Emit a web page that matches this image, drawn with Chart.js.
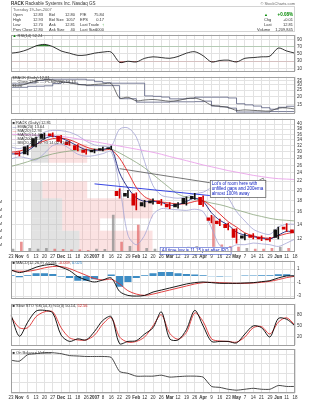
<!DOCTYPE html>
<html lang="en">
<head>
<meta charset="UTF-8">
<title>RACK</title>
<script src="https://cdn.jsdelivr.net/npm/chart.js"></script>
<style>
  body { margin: 0; background: #fff; font-family: "Liberation Sans", Arial, sans-serif; }
  #wrap { position: relative; width: 310px; height: 400px; overflow: hidden; }
  #wrap canvas { position: absolute; left: 0; }
  /* text layer drawn at 2x and scaled down, so tiny type is not clamped */
  #ovl { position: absolute; left: 0; top: 0; width: 620px; height: 800px; transform: scale(0.5); transform-origin: 0 0; pointer-events: none; }
  .t { position: absolute; font-size: 9px; line-height: 10px; color: #333; white-space: nowrap; }
  .h { font-size: 8px; }
  .r { text-align: right; }
  .box { position: absolute; border: 2px solid #d4d4d4; }
</style>
</head>
<body>
<div id="wrap">
  <canvas id="rsiChart"></canvas>
  <canvas id="chanChart"></canvas>
  <canvas id="priceChart"></canvas>
  <canvas id="macdChart"></canvas>
  <canvas id="stoChart"></canvas>
  <canvas id="obvChart"></canvas>

  <div id="ovl">
    <div class="t" style="left:22px;top:1px"><b>RACK</b> Rackable Systems Inc.  Nasdaq GS</div>
    <div class="t h r" style="right:30px;top:2px;color:#666">© StockCharts.com</div>
    <div class="box" style="left:22px;top:12px;width:564px;height:48px"></div>
    <div class="t h" style="left:26px;top:14px;color:#666">Tuesday 19-Jun-2007</div>

    <div class="t h" style="left:26px;top:24px">Open</div><div class="t h r" style="left:56px;width:30px;top:24px">12.83</div>
    <div class="t h" style="left:26px;top:34px">High</div><div class="t h r" style="left:56px;width:30px;top:34px">12.93</div>
    <div class="t h" style="left:26px;top:44px">Low</div><div class="t h r" style="left:56px;width:30px;top:44px">12.70</div>
    <div class="t h" style="left:26px;top:54px">Prev Close</div><div class="t h r" style="left:56px;width:30px;top:54px">12.80</div>
    <div class="t h" style="left:98px;top:24px">Bid</div><div class="t h r" style="left:120px;width:30px;top:24px">12.80</div>
    <div class="t h" style="left:98px;top:34px">Bid Size</div><div class="t h r" style="left:120px;width:30px;top:34px">1057</div>
    <div class="t h" style="left:98px;top:44px">Ask</div><div class="t h r" style="left:120px;width:30px;top:44px">12.81</div>
    <div class="t h" style="left:98px;top:54px">Ask Size</div><div class="t h r" style="left:120px;width:30px;top:54px">40</div>
    <div class="t h" style="left:160px;top:24px">P/E</div><div class="t h r" style="left:176px;width:32px;top:24px">75.84</div>
    <div class="t h" style="left:160px;top:34px">EPS</div><div class="t h r" style="left:176px;width:32px;top:34px">0.17</div>
    <div class="t h" style="left:160px;top:44px">Last Trade</div><div class="t h r" style="left:176px;width:32px;top:44px;color:#080">&#8593;</div>
    <div class="t h" style="left:160px;top:54px">Last Size</div><div class="t h r" style="left:176px;width:32px;top:54px">1000</div>

    <div class="t h" style="left:528px;top:24px;color:#080">&#9650;</div>
    <div class="t r" style="left:540px;width:46px;top:23px;color:#080;font-weight:bold">+0.08%</div>
    <div class="t h" style="left:528px;top:34px">Chg</div><div class="t h r" style="left:540px;width:46px;top:34px">+0.01</div>
    <div class="t h" style="left:528px;top:44px">Last</div><div class="t h r" style="left:540px;width:46px;top:44px">12.81</div>
    <div class="t h" style="left:514px;top:54px">Volume</div><div class="t h r" style="left:536px;width:50px;top:54px">1,209,845</div>

    <div class="t h" style="left:25px;top:67px"><span style="color:#080">&#9650;</span> RSI(14) 52.24</div>

    <div class="t h" style="left:25px;top:151px">$RACK (Daily) 12.81</div>
    <div class="t h" style="left:25px;top:159px"><span style="color:#556">&#8212;</span> Close 12.81 <span style="color:#556">&#8212;</span> PChan(20) 14.13</div>
    <div class="t h" style="left:25px;top:167px;color:#555">11.70</div>

    <div class="t h" style="left:25px;top:241px">&#9632; RACK (Daily) 12.81</div>
    <div class="t h" style="left:25px;top:249px"><span style="color:#1a237e">&#8212;</span> EMA(20) 13.04</div>
    <div class="t h" style="left:25px;top:257px"><span style="color:#e02020">&#8212;</span> MA(20) 12.93</div>
    <div class="t h" style="left:25px;top:265px"><span style="color:#7f9a70">&#8212;</span> MA(50) 14.47</div>
    <div class="t h" style="left:25px;top:273px"><span style="color:#e090e0">&#8212;</span> MA(200) 22.40</div>
    <div class="t h" style="left:25px;top:281px"><span style="color:#9090c8">&#8212;</span> BB(20,2.0) 12.93 14.02 11.84</div>

    <div class="t h" style="left:25px;top:521px">&#9632; MACD(12,26,9) -0.034, <span style="color:#d02020">-0.059</span>, <span style="color:#2a7fc0">0.025</span></div>
    <div class="t h" style="left:25px;top:607px">&#9632; Slow STO %K(14,3) %D(3) 50.14, <span style="color:#d02020">52.56</span></div>
    <div class="t h" style="left:25px;top:701px">&#9632; On Balance Volume</div>
  </div>
</div>

<script>
  // weekly sample points, Oct 23 2006 .. Jun 18 2007
  const weeks = ['23','Nov','6','13','20','27','Dec','11','18','26','2007','8','16','22','29','Feb','12','20','26','Mar','12','19','26','Apr','9','16','23','May','7','14','21','29','Jun','11','18'];
  const boldLabels = ['Nov','Dec','2007','Feb','Mar','Apr','May','Jun'];

  // price (weekly OHLC)
  const opens  = [29.0,29.6,29.3,31.8,34.5,36.2,35.3,33.2,32.0,30.5,29.9,30.5,31.0,19.8,18.8,19.3,17.0,17.5,17.9,17.3,16.8,17.4,18.3,18.6,15.0,14.5,14.0,13.3,12.1,12.5,12.2,12.0,12.2,13.6,13.2];
  const highs  = [30.3,30.0,32.0,35.0,36.5,36.6,35.6,33.6,32.3,30.8,30.8,31.5,31.8,20.3,20.0,19.5,18.0,18.3,18.2,17.6,17.6,18.7,19.4,18.9,15.4,14.8,14.2,13.4,12.7,12.7,12.4,12.2,13.6,14.1,13.4];
  const lows   = [28.6,28.7,29.0,31.5,34.2,35.0,33.0,32.0,30.2,29.2,29.6,30.2,30.6,18.4,18.5,16.3,16.8,17.3,17.1,16.5,16.6,17.1,18.2,16.9,14.2,13.8,13.2,11.5,11.9,12.0,11.8,11.7,12.0,13.0,12.7];
  const closes = [29.5,29.2,31.6,34.4,36.0,35.5,33.4,32.3,30.6,29.8,30.4,31.0,31.2,18.9,19.4,17.1,17.6,17.9,17.4,16.8,17.3,18.4,18.8,17.2,14.6,14.1,13.5,12.2,12.4,12.2,12.0,11.9,13.2,13.3,12.8];
  const volumeM = [2.0,7.0,2.5,2.0,2.5,2.0,1.8,1.5,1.5,1.2,2.0,1.8,26.0,7.0,4.0,19.0,2.5,2.0,2.5,2.0,2.0,3.5,4.0,3.0,25.0,5.0,4.0,3.5,2.5,2.0,2.0,2.5,3.5,2.5,2.0];

  // overlays
  const ema20  = [29.3,29.4,30.3,32.3,34.4,35.3,34.6,33.3,31.8,30.6,30.4,30.7,31.0,24.0,20.5,18.5,17.8,17.8,17.6,17.1,17.2,17.8,18.4,17.8,15.8,14.6,13.9,12.9,12.5,12.3,12.1,12.0,12.5,13.0,12.9];
  const ma20   = [29.8,30.2,31.0,32.4,33.6,34.4,34.6,34.0,32.8,31.5,30.7,30.5,30.6,28.0,24.2,20.6,18.7,18.0,17.7,17.5,17.3,17.4,17.8,17.9,16.9,15.6,14.4,13.6,12.8,12.4,12.2,12.1,12.4,12.7,12.9];
  const ma50   = [25.7,26.3,27.0,27.8,28.6,29.3,29.8,30.2,30.5,30.7,30.8,30.8,30.8,29.6,28.2,26.8,25.3,23.6,22.0,20.5,19.2,18.6,18.3,17.9,17.5,17.2,16.8,16.3,15.9,15.5,15.2,14.9,14.7,14.6,14.5];
  const ma200  = [36.0,35.9,35.8,35.7,35.6,35.4,35.2,34.8,34.3,33.8,33.3,32.8,32.3,31.8,31.3,30.8,30.3,29.8,29.2,28.5,27.9,27.3,26.7,26.1,25.6,25.1,24.6,24.2,23.8,23.4,23.1,22.8,22.6,22.5,22.4];
  const bbUpper = [31.5,31.0,32.0,34.5,36.8,37.5,37.4,36.8,35.5,33.5,32.2,31.8,31.8,38.0,38.5,35.0,27.0,21.0,19.0,18.6,18.4,18.7,19.3,19.6,20.5,20.5,18.5,16.0,14.5,13.3,12.8,12.6,13.6,14.0,14.0];
  const bbLower = [27.8,28.4,28.0,27.5,29.5,32.0,32.5,31.0,29.2,28.6,28.8,29.4,30.0,21.0,12.5,11.3,12.5,15.5,16.5,16.4,16.3,16.2,16.4,16.0,13.5,11.2,10.9,11.3,11.3,11.5,11.4,11.3,11.1,11.5,12.0];
  const blueTrend = [null,null,null,null,null,null,null,null,null,null,21.4,null,null,null,null,null,null,null,null,null,null,null,null,null,18.9,null,null,null,null,null,null,null,null,null,null];
  const greyTrend = [null,null,null,null,null,null,null,null,null,null,null,null,null,25.1,null,null,null,null,null,null,null,null,null,null,21.6,null,null,null,null,null,null,null,null,null,null];

  // volume by price zones (M shares)
  const vbpLow  = [10.4, 13.1, 14.9, 18.4, 26.7];
  const vbpHigh = [13.1, 14.9, 18.4, 22.0, 32.5];
  const vbpDown = [56, 36, 36, 13, 20];
  const vbpUp   = [85, 44, 105, 52, 45];

  // price channel panel
  const chanUpper = [31.0,31.0,32.0,35.0,36.5,36.6,36.6,36.6,36.6,35.6,33.6,32.3,31.8,31.8,31.8,31.8,20.3,20.0,19.5,18.3,18.3,18.7,19.4,19.4,19.4,19.4,18.9,15.4,14.8,14.2,13.4,12.7,13.6,14.1,14.1];
  const chanLower = [27.5,27.5,28.5,28.6,29.0,31.5,33.0,32.0,30.2,29.2,29.2,29.2,29.2,18.4,18.4,16.3,16.3,16.3,16.3,16.5,16.5,16.5,16.6,16.9,14.2,13.8,13.2,11.5,11.5,11.5,11.5,11.7,11.7,11.7,11.8];

  // indicators
  const rsi = [52,55,62,72,76,70,58,52,46,47,52,55,55,27,30,28,38,42,40,38,43,52,56,45,28,32,33,28,38,40,42,44,66,58,52];
  const macd = [0.9,0.5,0.8,1.3,1.6,1.7,1.3,0.8,-0.1,-0.6,-0.9,-0.6,-0.3,-2.3,-2.9,-3.0,-2.9,-2.4,-2.1,-1.8,-1.5,-1.2,-1.0,-0.9,-1.0,-1.1,-1.1,-1.1,-1.05,-1.0,-0.85,-0.7,-0.3,0.0,0.0];
  const macdSignal = [0.8,0.7,0.7,0.9,1.2,1.4,1.4,1.1,0.6,0.1,-0.4,-0.6,-0.5,-1.2,-2.2,-2.7,-2.9,-2.7,-2.4,-2.1,-1.8,-1.5,-1.2,-1.0,-0.95,-1.0,-1.05,-1.1,-1.1,-1.05,-0.95,-0.8,-0.55,-0.25,-0.05];
  const macdHist = [0.1,-0.2,0.1,0.4,0.4,0.3,-0.1,-0.3,-0.7,-0.7,-0.5,0.0,0.2,-1.6,-0.9,-0.3,0.1,0.4,0.6,0.6,0.4,0.3,0.2,0.1,-0.05,-0.1,-0.05,0.0,0.05,0.05,0.1,0.1,0.25,0.25,0.05];
  const stoK = [80,22,60,90,92,85,25,8,15,12,35,65,75,2,8,10,28,45,88,15,12,40,92,50,8,8,8,4,28,50,45,20,70,68,50];
  const stoD = [75,45,45,75,88,88,45,18,12,12,25,55,72,20,6,8,20,50,80,30,14,32,85,62,15,9,8,6,20,45,48,28,60,72,52];
  const obv = [34,33,40,41,42,42,41,39,38.5,38,38,38,37,22,20,17,17,17,18,16,16.5,17,17,16,6,5,3,2,3,4,3,3,7,6,6];

  const rsiTicks = [10, 30, 50, 70, 90];
  const chanTicks = [15, 20, 25, 30, 35];
  const priceTicks = [12,14,16,18,20,22,24,26,28,30,32,34,36,38,40];
  const volTicks = [5, 10, 15, 20, 25, 30, 35];
  const macdTicks = [-3, -2, -1, 0, 1, 2];
  const stoTicks = [20, 50, 80];

  const TICK = 4.5;
  Chart.defaults.font.family = '"Liberation Sans", Arial, sans-serif';
  Chart.defaults.font.size = TICK;
  Chart.defaults.color = '#333';
  Chart.defaults.animation = false;
  Chart.defaults.plugins.legend.display = false;
  Chart.defaults.plugins.tooltip.enabled = false;
  Chart.defaults.elements.point.radius = 0;
  Chart.defaults.elements.line.borderWidth = 1;

  const GRID = '#e2e2e2';

  const frame = {
    id: 'frame',
    afterDraw(chart) {
      const a = chart.chartArea, c = chart.ctx;
      c.save();
      c.strokeStyle = '#a0a0a0';
      c.lineWidth = 1;
      c.strokeRect(Math.round(a.left) + 0.5, Math.round(a.top) + 0.5, Math.round(a.right - a.left) - 1, Math.round(a.bottom - a.top) - 1);
      c.restore();
    }
  };

  function fixedTicks(list) {
    return s => { s.ticks = list.map(v => ({ value: v })); };
  }

  function xCat(show) {
    return {
      type: 'category', offset: false,
      grid: { color: GRID, drawTicks: false },
      border: { display: false },
      ticks: {
        display: show, autoSkip: false, maxRotation: 0, minRotation: 0, padding: 2,
        font: c => ({ size: TICK, weight: boldLabels.includes(weeks[c.index]) ? 'bold' : 'normal' })
      },
      afterFit(s) { s.height = show ? 8 : 0; }
    };
  }

  function yRight(o) {
    return Object.assign({
      position: 'right',
      grid: { color: GRID, drawTicks: false },
      border: { display: false },
      ticks: { padding: 2, font: { size: TICK } },
      afterFit(s) { s.width = 15; }
    }, o);
  }

  function setup(id, plotTop, plotH, showX) {
    const cv = document.getElementById(id);
    const padT = 3, padB = showX ? 0 : 3;
    cv.width = 310;
    cv.height = plotH + padT + padB + (showX ? 8 : 0);
    cv.style.top = (plotTop - padT) + 'px';
    return { cv, padding: { top: padT, bottom: padB, left: 11, right: 0 } };
  }

  function line(data, color, width, extra) {
    return Object.assign({ type: 'line', data, borderColor: color, borderWidth: width, tension: 0.3, fill: false }, extra || {});
  }

  // RSI
  (function () {
    const p = setup('rsiChart', 33, 40, false);
    new Chart(p.cv, {
      type: 'line',
      data: {
        labels: weeks,
        datasets: [
          line(rsi, '#000', 0.8, { fill: { target: { value: 70 }, above: 'rgba(30,130,30,0.9)', below: 'rgba(0,0,0,0)' } }),
          line(rsi, 'rgba(0,0,0,0)', 0, { fill: { target: { value: 30 }, above: 'rgba(0,0,0,0)', below: 'rgba(160,40,40,0.9)' } })
        ]
      },
      options: {
        responsive: false,
        layout: { autoPadding: false, padding: p.padding },
        scales: { x: xCat(false), y: yRight({ min: 2.5, max: 102.5, afterBuildTicks: fixedTicks(rsiTicks) }) }
      },
      plugins: [frame]
    });
  })();

  // price channel
  (function () {
    const p = setup('chanChart', 75, 40, false);
    new Chart(p.cv, {
      type: 'line',
      data: {
        labels: weeks,
        datasets: [
          line(closes, '#333', 0.7),
          line(chanUpper, '#5a5f80', 0.8, { stepped: 'before', tension: 0 }),
          line(chanLower, '#5a5f80', 0.8, { stepped: 'before', tension: 0 })
        ]
      },
      options: {
        responsive: false,
        layout: { autoPadding: false, padding: p.padding },
        scales: {
          x: xCat(false),
          y: yRight({ type: 'logarithmic', min: 11, max: 40, afterBuildTicks: fixedTicks(chanTicks), ticks: { padding: 2, font: { size: TICK }, callback: v => String(v) } })
        }
      },
      plugins: [frame]
    });
  })();

  // price panel
  const vbpPlugin = {
    id: 'vbp',
    beforeDatasetsDraw(chart) {
      const y = chart.scales.y, xv = chart.scales.xv, c = chart.ctx, a = chart.chartArea;
      c.save();
      c.beginPath(); c.rect(a.left, a.top, a.right - a.left, a.bottom - a.top); c.clip();
      vbpLow.forEach((lo, k) => {
        const top = y.getPixelForValue(vbpHigh[k]), bot = y.getPixelForValue(lo);
        const x0 = xv.getPixelForValue(0), x1 = xv.getPixelForValue(vbpDown[k]), x2 = xv.getPixelForValue(vbpDown[k] + vbpUp[k]);
        c.fillStyle = 'rgba(190,190,190,0.45)'; c.fillRect(x0, top, x1 - x0, bot - top);
        c.fillStyle = 'rgba(240,150,150,0.28)'; c.fillRect(x1, top, x2 - x1, bot - top);
      });
      c.restore();
    }
  };

  const notes = [
    { i: 23.8, p: 22.3, lines: ["Lot's of room here with", 'unfilled gaps and 200ema', 'almost 100% away'], border: '#555', pointer: [30.2, 22.7] },
    { i: 17.8, p: 11.05, lines: ['All time low is 11.15 just after IPO'], border: '#6070d0' }
  ];

  const notePlugin = {
    id: 'notes',
    afterDatasetsDraw(chart) {
      const x = chart.scales.x, y = chart.scales.y, c = chart.ctx;
      c.save();
      c.font = '4.5px "Liberation Sans", Arial, sans-serif';
      c.textBaseline = 'top';
      notes.forEach(n => {
        const left = x.getPixelForValue(n.i), top = y.getPixelForValue(n.p);
        const w = Math.max(...n.lines.map(s => c.measureText(s).width)) + 4;
        const h = n.lines.length * 5 + 2;
        if (n.pointer) {
          c.strokeStyle = n.border; c.lineWidth = 0.7;
          c.beginPath(); c.moveTo(left + w - 6, top); c.lineTo(x.getPixelForValue(n.pointer[0]), y.getPixelForValue(n.pointer[1])); c.lineTo(left + w, top + 3); c.stroke();
        }
        c.fillStyle = '#fff'; c.fillRect(left, top, w, h);
        c.strokeStyle = n.border; c.lineWidth = 0.7; c.strokeRect(left + 0.5, top + 0.5, w, h);
        c.fillStyle = '#1020c0';
        n.lines.forEach((s, k) => c.fillText(s, left + 2, top + 1.5 + k * 5));
      });
      c.restore();
    }
  };

  (function () {
    const p = setup('priceChart', 117, 135, true);
    p.padding.left = 0;
    const candleCol = opens.map((o, k) => closes[k] < o ? '#d40000' : '#111');
    const volCol = opens.map((o, k) => closes[k] < o ? 'rgba(225,110,110,0.75)' : 'rgba(140,140,140,0.75)');
    new Chart(p.cv, {
      type: 'bar',
      data: {
        labels: weeks,
        datasets: [
          { type: 'bar', data: opens.map((o, k) => [o, closes[k]]), backgroundColor: candleCol, barThickness: 3, yAxisID: 'y' },
          { type: 'bar', data: lows.map((l, k) => [l, highs[k]]), backgroundColor: candleCol, barThickness: 1, yAxisID: 'y' },
          line(ema20, '#1a237e', 0.9),
          line(ma20, '#e02020', 0.9),
          line(blueTrend, '#2030e0', 0.9, { spanGaps: true, tension: 0 }),
          line(greyTrend, '#555', 0.8, { spanGaps: true, tension: 0 }),
          line(ma50, '#8aa57c', 0.8),
          line(ma200, '#eaa2ea', 0.9),
          line(bbUpper, '#a4a4d4', 0.8),
          line(bbLower, '#a4a4d4', 0.8),
          { type: 'bar', data: volumeM, backgroundColor: volCol, barThickness: 2, yAxisID: 'yv' }
        ]
      },
      options: {
        responsive: false,
        layout: { autoPadding: false, padding: p.padding },
        scales: {
          x: xCat(true),
          xv: { type: 'linear', display: false, min: 0, max: 283 },
          y: yRight({ type: 'logarithmic', min: 10.47, max: 42.4, afterBuildTicks: fixedTicks(priceTicks), ticks: { padding: 2, font: { size: TICK }, callback: v => String(v) } }),
          yv: {
            position: 'left', min: 0, max: 94,
            grid: { display: false }, border: { display: false },
            afterBuildTicks: fixedTicks(volTicks),
            ticks: { padding: 1, font: { size: 4 }, callback: v => v + 'M' },
            afterFit(s) { s.width = 11; }
          }
        }
      },
      plugins: [vbpPlugin, notePlugin, frame]
    });
  })();

  // MACD
  (function () {
    const p = setup('macdChart', 259, 41, false);
    new Chart(p.cv, {
      type: 'bar',
      data: {
        labels: weeks,
        datasets: [
          line(macd, '#000', 0.9),
          line(macdSignal, '#e03030', 0.9),
          { type: 'bar', data: macdHist, backgroundColor: '#3d8cc4', barPercentage: 1, categoryPercentage: 0.85 }
        ]
      },
      options: {
        responsive: false,
        layout: { autoPadding: false, padding: p.padding },
        scales: { x: xCat(false), y: yRight({ min: -3.33, max: 2.27, afterBuildTicks: fixedTicks(macdTicks) }) }
      },
      plugins: [frame]
    });
  })();

  // Slow stochastic
  (function () {
    const p = setup('stoChart', 302, 45, false);
    new Chart(p.cv, {
      type: 'line',
      data: {
        labels: weeks,
        datasets: [line(stoK, '#000', 0.9), line(stoD, '#e03030', 0.9)]
      },
      options: {
        responsive: false,
        layout: { autoPadding: false, padding: p.padding },
        scales: { x: xCat(false), y: yRight({ min: -2.5, max: 110, afterBuildTicks: fixedTicks(stoTicks) }) }
      },
      plugins: [frame]
    });
  })();

  // On balance volume
  (function () {
    const p = setup('obvChart', 349, 44, true);
    new Chart(p.cv, {
      type: 'line',
      data: { labels: weeks, datasets: [line(obv, '#333', 0.9, { tension: 0.2 })] },
      options: {
        responsive: false,
        layout: { autoPadding: false, padding: p.padding },
        scales: {
          x: xCat(true),
          y: yRight({ min: -1, max: 46, grid: { color: GRID, drawTicks: false }, ticks: { display: false } })
        }
      },
      plugins: [frame]
    });
  })();
</script>
</body>
</html>
